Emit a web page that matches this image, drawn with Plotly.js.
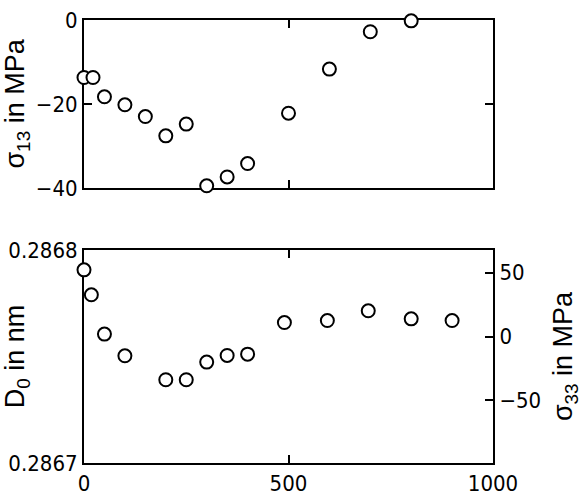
<!DOCTYPE html>
<html>
<head>
<meta charset="utf-8">
<script src="https://cdn.plot.ly/plotly-3.0.1.min.js"></script>
<style>html,body{margin:0;padding:0;background:#fff;}#chart{width:582px;height:498px;}</style>
</head>
<body>
<div id="chart"></div>
<script>
// Top panel: shear stress sigma13 (MPa)
var xTop = [0, 22, 50, 100, 150, 200, 250, 300, 350, 400, 500, 600, 700, 800];
var sigma13 = [-13.7, -13.7, -18.3, -20.2, -23.0, -27.6, -24.8, -39.5, -37.4, -34.2, -22.2, -11.7, -2.8, -0.2];

// Bottom panel: normal stress sigma33 (MPa)
var xBottom = [0, 18, 50, 100, 200, 250, 300, 350, 400, 490, 595, 695, 800, 900];
var sigma33 = [52.1, 32.6, 1.9, -15.1, -33.8, -33.8, -20.0, -14.8, -13.8, 10.9, 12.5, 20.1, 13.8, 12.5];

var xTicks = [0, 500, 1000];
var sigma13Ticks = [0, -20, -40];
var d0Ticks = [0.2867, 0.2868];
var sigma33Ticks = [-50, 0, 50];

var tickFont = {family: 'Liberation Sans Narrow, DejaVu Sans Condensed, Arial Narrow, sans-serif', size: 22, color: '#000'};
var titleFont = {family: 'Liberation Sans, Arial, sans-serif', size: 27, color: '#000'};

var marker = {symbol: 'circle', size: 13, color: '#fff', line: {color: '#000', width: 2}};

var traces = [
  {x: xTop, y: sigma13, xaxis: 'x', yaxis: 'y', mode: 'markers', type: 'scatter', marker: marker, cliponaxis: false, hoverinfo: 'x+y'},
  {x: xBottom, y: sigma33, xaxis: 'x2', yaxis: 'y2', mode: 'markers', type: 'scatter', marker: marker, cliponaxis: false, hoverinfo: 'x+y'},
  {x: [], y: [], xaxis: 'x2', yaxis: 'y3', mode: 'markers', type: 'scatter', hoverinfo: 'skip'}
];

var axCommon = {showline: true, linecolor: '#000', linewidth: 2, ticks: 'inside', ticklen: 8, tickwidth: 2, tickcolor: '#000', showgrid: false, zeroline: false, tickfont: tickFont, layer: 'below traces'};

var layout = {
  width: 582, height: 498,
  margin: {l: 84, r: 89, t: 20, b: 35},
  paper_bgcolor: '#fff', plot_bgcolor: '#fff',
  showlegend: false,
  xaxis: Object.assign({}, axCommon, {domain: [0, 1], anchor: 'y', range: [0, 1000], tickvals: [500], showticklabels: false, mirror: 'ticks'}),
  yaxis: Object.assign({}, axCommon, {domain: [0.621, 1], anchor: 'x', range: [-40, 0], tickvals: sigma13Ticks, mirror: 'ticks',
    title: {text: 'σ<sub>13</sub> in MPa', font: titleFont, standoff: 14}}),
  xaxis2: Object.assign({}, axCommon, {domain: [0, 1], anchor: 'y2', range: [0, 1000], tickvals: xTicks, mirror: 'ticks'}),
  yaxis2: Object.assign({}, axCommon, {domain: [0, 0.481], anchor: 'x2', side: 'right', range: [-98.9, 67.7], tickvals: sigma33Ticks,
    title: {text: 'σ<sub>33</sub> in MPa', font: titleFont, standoff: 14}}),
  yaxis3: Object.assign({}, axCommon, {overlaying: 'y2', side: 'left', anchor: 'x2', range: [0.2867, 0.2868], tickvals: d0Ticks, tickformat: '.4f', ticks: '',
    title: {text: 'D<sub>0</sub> in nm', font: titleFont, standoff: 8}})
};

Plotly.newPlot('chart', traces, layout, {staticPlot: true, displayModeBar: false});
</script>
</body>
</html>
